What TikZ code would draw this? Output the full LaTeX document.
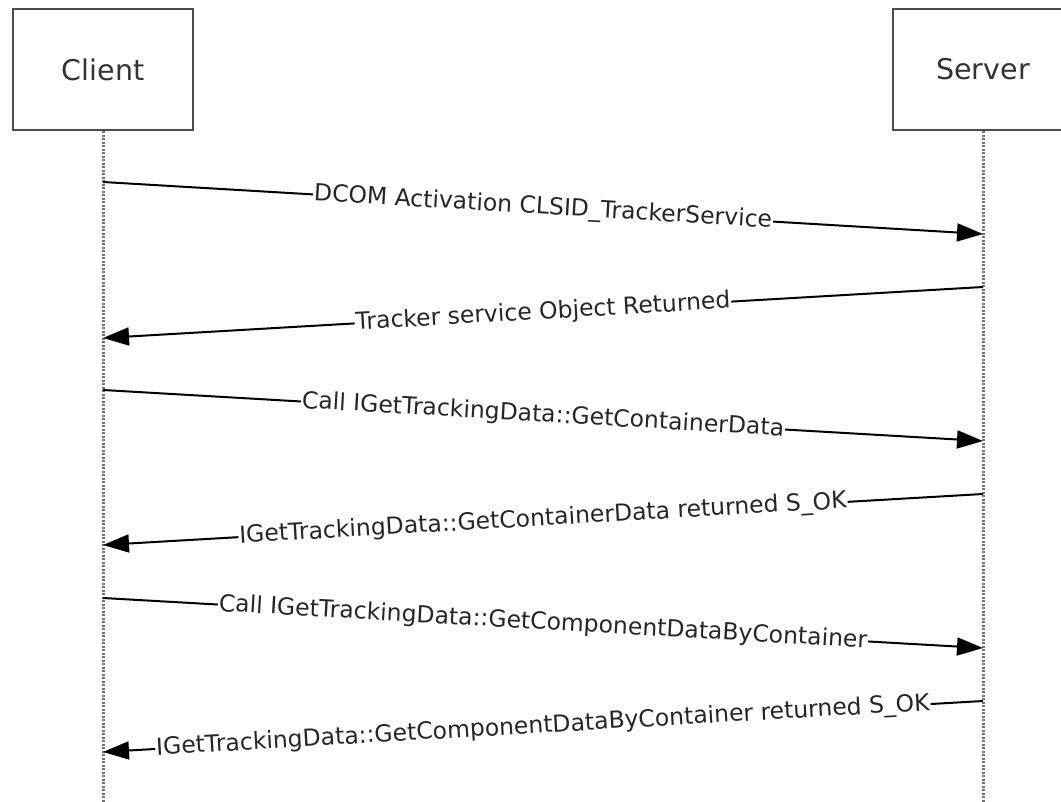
\documentclass[tikz,border=0pt]{standalone}
\usepackage{fontspec}
\setmainfont{DejaVu Sans}
\usetikzlibrary{arrows.meta}
\begin{document}
\begin{tikzpicture}[x=1pt,y=-1pt,
  actor/.style={draw=black!70,line width=2.6pt,minimum width=180pt,minimum height=121pt,inner sep=0pt,font=\fontsize{28.5}{32}\selectfont,text=black!80},
  lifeline/.style={draw=black!55,line width=3pt,dash pattern=on 2pt off 1.5pt},
  msg/.style={draw=black,line width=2pt,-{Triangle[length=26pt,width=18pt]}},
  lbl/.style={sloped,midway,fill=white,inner sep=1pt,font=\fontsize{23.5}{27}\selectfont,text=black!85}]
\useasboundingbox (0,0) rectangle (1061,802);
\node[actor] (cl) at (103,69.5) {Client};
\node[actor] (sv) at (983,69.5) {Server};
\coordinate (clend) at (103,802);
\coordinate (svend) at (983,802);
\draw[lifeline] (cl.south) -- (clend);
\draw[lifeline] (sv.south) -- (svend);
\foreach \n/\ya/\yb in {1/182/234,2/338/287,3/390/441,4/545/494,5/598/648,6/752/701}{
  \coordinate (c\n) at (103,\ya);
  \coordinate (s\n) at (983,\yb);
}
\draw[msg] (c1) -- node[lbl] {DCOM Activation CLSID\_TrackerService} (s1);
\draw[msg] (s2) -- node[lbl] {Tracker service Object Returned} (c2);
\draw[msg] (c3) -- node[lbl] {Call IGetTrackingData::GetContainerData} (s3);
\draw[msg] (s4) -- node[lbl] {IGetTrackingData::GetContainerData returned S\_OK} (c4);
\draw[msg] (c5) -- node[lbl] {Call IGetTrackingData::GetComponentDataByContainer} (s5);
\draw[msg] (s6) -- node[lbl] {IGetTrackingData::GetComponentDataByContainer returned S\_OK} (c6);
\end{tikzpicture}
\end{document}
